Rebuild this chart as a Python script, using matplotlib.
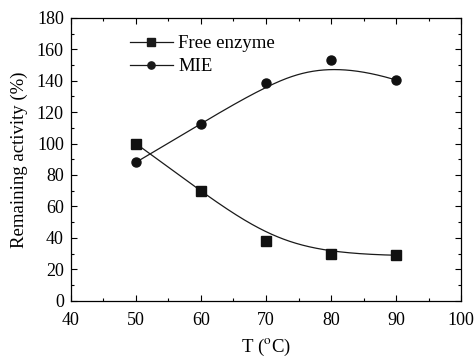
import numpy as np
import matplotlib
matplotlib.use("Agg")
import matplotlib.pyplot as plt
from matplotlib.ticker import MultipleLocator

# data
temps = [50, 60, 70, 80, 90]
free_enzyme = [100, 69.8, 38, 29.9, 28.9]
mie = [88, 112.4, 138.7, 152.9, 140.4]

plt.rcParams["font.family"] = ["Liberation Serif", "DejaVu Serif"]
plt.rcParams["mathtext.fontset"] = "stix"

fig = plt.figure(figsize=(4.75, 3.64), dpi=100)
ax = fig.add_axes([0.149, 0.174, 0.822, 0.777])


def bspline(x, y, k=3, n=300):
    # clamped B-spline using the measured points as control points
    # (same kind of connecting line the original plotting package draws)
    pts = np.column_stack([x, y]).astype(float)
    m = len(pts)
    inner = np.linspace(0, 1, m - k + 1)[1:-1]
    knots = np.concatenate([np.zeros(k + 1), inner, np.ones(k + 1)])
    ts = np.linspace(0, 1, n)
    out = []
    for t in ts:
        i = np.searchsorted(knots, t, side="right") - 1
        i = min(i, m - 1)
        d = [pts[j + i - k].copy() for j in range(k + 1)]
        for r in range(1, k + 1):
            for j in range(k, r - 1, -1):
                den = knots[j + 1 + i - r] - knots[j + i - k]
                a = 0.0 if den == 0 else (t - knots[j + i - k]) / den
                d[j] = (1 - a) * d[j - 1] + a * d[j]
        out.append(d[k])
    out = np.array(out)
    return out[:, 0], out[:, 1]


for y, mk, lab in [(free_enzyme, "s", "Free enzyme"), (mie, "o", "MIE")]:
    xs, ys = bspline(temps, y)
    ax.plot(xs, ys, color="#1a1a1a", lw=0.9)
    ax.plot(temps, y, ls="none", marker=mk, ms=6.5, color="#111111")
    ax.plot([], [], color="#1a1a1a", lw=0.9, marker=mk, ms=6.5, label=lab)

ax.set_xlim(40, 100)
ax.set_ylim(0, 180)
ax.xaxis.set_major_locator(MultipleLocator(10))
ax.xaxis.set_minor_locator(MultipleLocator(5))
ax.yaxis.set_major_locator(MultipleLocator(20))
ax.yaxis.set_minor_locator(MultipleLocator(10))
ax.tick_params(which="both", direction="in", top=True, right=True,
               labelsize=13, width=0.8)
ax.tick_params(which="major", length=4)
ax.tick_params(which="minor", length=2.5)
ax.tick_params(axis="x", pad=8)
ax.tick_params(axis="y", pad=5)
for s in ax.spines.values():
    s.set_linewidth(0.9)

ax.set_xlabel("T ($^{\\rm o}$C)", fontsize=13.5, labelpad=6)
ax.set_ylabel("Remaining activity (%)", fontsize=13.5, labelpad=6)

ax.legend(loc="upper left", bbox_to_anchor=(0.122, 0.978), frameon=False,
          fontsize=13.5, handlelength=2.3, handletextpad=0.3,
          labelspacing=0.3, borderaxespad=0.2, markerscale=0.8)

fig.savefig("out.png", dpi=100)
